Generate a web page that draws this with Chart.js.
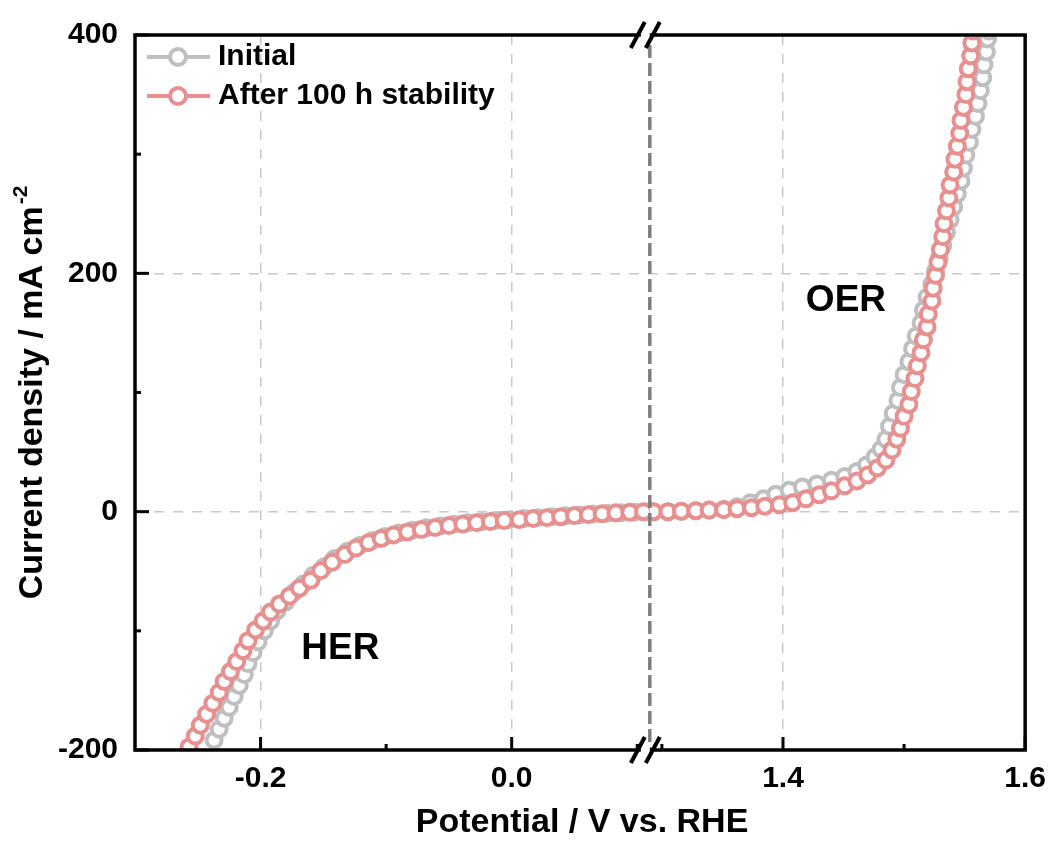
<!DOCTYPE html>
<html>
<head>
<meta charset="utf-8">
<title>LSV sebelum dan sesudah uji stabilitas</title>
<script src="https://cdn.jsdelivr.net/npm/chart.js@4.4.1/dist/chart.umd.min.js"></script>
<style>
  html, body { margin: 0; padding: 0; background: #fff; }
  #wrap { width: 1057px; height: 842px; }
</style>
</head>
<body>
<div id="wrap"><canvas id="chartCanvas" width="1057" height="842"></canvas></div>
<script>
    const seriesNames = ["Initial", "After 100 h stability"];
    const seriesColors = ["#bfbfbf", "#e88f8f"];

    // HER (sisi kiri sumbu x), potensial dalam V vs. RHE, arus dalam mA cm-2
    const initialHerV = [-0.237,-0.233,-0.229,-0.225,-0.221,-0.217,-0.213,-0.210,-0.206,-0.202,-0.197,-0.192,-0.187,-0.180,-0.173,-0.166,-0.158,-0.149,-0.141,-0.131,-0.121,-0.111,-0.101,-0.090,-0.079,-0.068,-0.057,-0.046,-0.035,-0.024,-0.013,-0.002,0.010,0.021,0.032,0.043,0.054,0.065,0.076,0.087,0.098,0.109];
    const initialHerJ = [-191.7,-182.5,-173.3,-164.2,-155.0,-145.8,-136.7,-127.5,-118.3,-109.2,-100.0,-91.7,-83.3,-75.8,-67.5,-60.8,-53.3,-46.0,-39.2,-33.3,-28.3,-24.2,-20.8,-18.0,-15.5,-13.6,-12.0,-10.6,-9.4,-8.4,-7.5,-6.7,-5.8,-5.0,-4.2,-3.4,-2.7,-2.0,-1.4,-0.9,-0.4,0.0];
    const afterHerV = [-0.257,-0.252,-0.248,-0.243,-0.238,-0.233,-0.229,-0.224,-0.219,-0.214,-0.210,-0.204,-0.198,-0.192,-0.185,-0.177,-0.169,-0.160,-0.152,-0.143,-0.133,-0.124,-0.114,-0.104,-0.094,-0.083,-0.072,-0.061,-0.050,-0.039,-0.028,-0.017,-0.006,0.006,0.017,0.028,0.039,0.050,0.061,0.072,0.083,0.094,0.105];
    const afterHerJ = [-197.5,-188.3,-179.2,-170.0,-160.8,-151.7,-142.5,-134.2,-125.8,-116.7,-108.3,-99.2,-91.7,-84.2,-77.5,-70.8,-64.2,-57.5,-49.5,-42.5,-36.0,-30.5,-26.0,-22.5,-19.5,-17.0,-15.0,-13.3,-11.7,-10.4,-9.2,-8.3,-7.5,-6.7,-5.8,-5.0,-4.2,-3.3,-2.5,-1.7,-1.0,-0.5,0.0];

    // OER (sisi kanan sumbu x)
    const initialOerV = [1.293,1.305,1.316,1.328,1.339,1.351,1.362,1.373,1.384,1.394,1.405,1.416,1.428,1.440,1.451,1.461,1.469,1.476,1.481,1.485,1.488,1.491,1.495,1.497,1.500,1.504,1.507,1.510,1.514,1.516,1.519,1.523,1.526,1.529,1.532,1.535,1.538,1.541,1.544,1.547,1.549,1.551,1.554,1.556,1.559,1.561,1.563,1.565,1.566,1.568,1.569,1.570];
    const initialOerJ = [0,0,0.4,0.8,1.3,2.1,4.2,7.5,10.8,14.6,17.9,20.8,23.3,26.3,29.6,33.8,39.2,45.8,52.5,60.8,71.7,82.5,93.3,104.2,115.0,125.8,136.7,147.5,158.3,169.2,180.0,190.8,201.7,212.5,223.3,234.2,245.0,255.8,266.7,277.5,288.3,299.2,310.0,320.8,331.7,342.5,353.3,364.2,375.0,385.8,396.7,403.3];
    const afterOerV = [1.293,1.305,1.316,1.328,1.339,1.351,1.362,1.374,1.385,1.397,1.408,1.419,1.430,1.440,1.451,1.461,1.470,1.478,1.485,1.490,1.494,1.497,1.500,1.504,1.506,1.509,1.511,1.514,1.516,1.519,1.520,1.523,1.524,1.526,1.528,1.530,1.532,1.533,1.535,1.537,1.538,1.541,1.542,1.544,1.546,1.547,1.549,1.551,1.552,1.553,1.555,1.556,1.557];
    const afterOerJ = [0,0,0.4,0.8,1.3,1.7,2.5,3.3,4.6,5.8,7.5,10.8,14.2,17.5,21.7,25.8,30.8,36.7,43.3,51.7,60.8,70.0,80.0,90.0,100.8,111.7,122.5,133.3,144.2,155.0,165.8,176.7,187.5,198.3,209.2,220.0,230.8,241.7,252.5,263.3,274.2,285.0,295.8,306.7,317.5,328.3,339.2,350.0,360.8,371.7,382.5,393.3,403.3];

    // sumbu
    const xRangeLeft = [-0.3, 0.11];
    const xRangeRight = [1.29, 1.6];
    const xTicksLeft = [-0.2, 0.0];
    const xTicksRight = [1.4, 1.6];
    const xMinorLeft = [-0.1, 0.1];
    const xMinorRight = [1.3, 1.5];
    const yRange = [-200, 400];
    const yTicks = [-200, 0, 200, 400];
    const yMinor = [-100, 100, 300];

    const FONT = '"Liberation Sans", Arial, Helvetica, sans-serif';

    function toPoints(vs, js) {
      return vs.map((v, i) => ({ x: v, y: js[i] }));
    }

    function gaya(warna) {
      return {
        borderColor: warna,
        backgroundColor: '#fff',
        borderWidth: 3.5,
        pointRadius: 7.5,
        pointHoverRadius: 7.5,
        pointBorderWidth: 4,
        pointBorderColor: warna,
        pointBackgroundColor: '#fff',
        tension: 0,
        fill: false
      };
    }

    const tickFont = { family: FONT, size: 30, weight: 'bold' };

    function sumbuX(range, ticks, weight) {
      return {
        type: 'linear',
        position: 'bottom',
        stack: 'x',
        stackWeight: weight,
        min: range[0],
        max: range[1],
        afterBuildTicks: s => { s.ticks = ticks.map(v => ({ value: v })); },
        afterFit: s => { s.height = 92; },
        grid: { color: '#c8c8c8', lineWidth: 1.5, drawTicks: false },
        border: { display: false, dash: [10, 9] },
        ticks: {
          color: '#000', font: tickFont, padding: 11,
          maxRotation: 0, autoSkip: false,
          callback: v => Number(v).toFixed(1)
        }
      };
    }

    function garis(ctx, x1, y1, x2, y2) {
      ctx.beginPath();
      ctx.moveTo(x1, y1);
      ctx.lineTo(x2, y2);
      ctx.stroke();
    }

    // bingkai, tick ke dalam, tanda patahan sumbu, judul, label dan legenda
    const hiasan = {
      id: 'hiasan',
      afterDatasetsDraw(chart) {
        const { ctx, chartArea: a, scales } = chart;
        const bx = scales.x1.right;
        ctx.save();

        ctx.strokeStyle = '#7f7f7f';
        ctx.lineWidth = 3.5;
        ctx.setLineDash([13, 5]);
        garis(ctx, bx, a.top + 10, bx, a.bottom);
        ctx.setLineDash([]);

        ctx.strokeStyle = '#000';
        ctx.lineWidth = 3.5;
        ctx.strokeRect(a.left, a.top, a.right - a.left, a.bottom - a.top);

        ctx.lineWidth = 3;
        yTicks.forEach(v => { const p = scales.y.getPixelForValue(v); garis(ctx, a.left, p, a.left + 14, p); });
        yMinor.forEach(v => { const p = scales.y.getPixelForValue(v); garis(ctx, a.left, p, a.left + 6, p); });
        xTicksLeft.forEach(v => { const p = scales.x1.getPixelForValue(v); garis(ctx, p, a.bottom, p, a.bottom - 13); });
        xMinorLeft.forEach(v => { const p = scales.x1.getPixelForValue(v); garis(ctx, p, a.bottom, p, a.bottom - 6); });
        xTicksRight.forEach(v => { const p = scales.x2.getPixelForValue(v); garis(ctx, p, a.bottom, p, a.bottom - 13); });
        xMinorRight.forEach(v => { const p = scales.x2.getPixelForValue(v); garis(ctx, p, a.bottom, p, a.bottom - 6); });

        // tanda "//"
        [a.top, a.bottom].forEach(yy => {
          ctx.fillStyle = '#fff';
          ctx.fillRect(bx - 9, yy - 3, 9, 6);
          ctx.strokeStyle = '#000';
          ctx.lineWidth = 4;
          [bx - 12, bx + 3].forEach(cx => garis(ctx, cx - 7, yy + 13, cx + 7, yy - 13));
        });
        ctx.restore();
      },
      afterDraw(chart) {
        const { ctx, chartArea: a, scales } = chart;
        ctx.save();
        ctx.fillStyle = '#000';
        ctx.textBaseline = 'middle';

        // judul sumbu x
        ctx.font = 'bold 34px ' + FONT;
        ctx.textAlign = 'center';
        ctx.fillText('Potential / V vs. RHE', (a.left + a.right) / 2 + 2, a.bottom + 73);

        // judul sumbu y dengan pangkat
        ctx.save();
        ctx.translate(33, (a.top + a.bottom) / 2);
        ctx.rotate(-Math.PI / 2);
        const utama = 'Current density / mA cm';
        const pangkat = '-2';
        ctx.font = 'bold 34px ' + FONT;
        const w1 = ctx.measureText(utama).width;
        ctx.font = 'bold 21px ' + FONT;
        const w2 = ctx.measureText(pangkat).width;
        const mulai = -(w1 + w2 + 2) / 2;
        ctx.textAlign = 'left';
        ctx.font = 'bold 34px ' + FONT;
        ctx.fillText(utama, mulai, 0);
        ctx.font = 'bold 21px ' + FONT;
        ctx.fillText(pangkat, mulai + w1 + 2, -12);
        ctx.restore();

        // label HER / OER
        ctx.font = 'bold 37px ' + FONT;
        ctx.textAlign = 'center';
        ctx.fillText('HER', scales.x1.getPixelForValue(-0.1365), scales.y.getPixelForValue(-115));
        ctx.fillText('OER', scales.x2.getPixelForValue(1.452), scales.y.getPixelForValue(177));

        // legenda
        seriesNames.forEach((nama, i) => {
          const yy = a.top + 22 + i * 39;
          const x0 = a.left + 12;
          ctx.strokeStyle = seriesColors[i];
          ctx.lineWidth = 4;
          garis(ctx, x0, yy, x0 + 63, yy);
          ctx.beginPath();
          ctx.arc(x0 + 31, yy, 8, 0, Math.PI * 2);
          ctx.fillStyle = '#fff';
          ctx.fill();
          ctx.stroke();
          ctx.fillStyle = '#000';
          ctx.font = 'bold 30px ' + FONT;
          ctx.textAlign = 'left';
          ctx.fillText(nama, x0 + 71, yy);
        });
        ctx.restore();
      }
    };

    const ctx = document.getElementById('chartCanvas').getContext('2d');
    window.chartInstance = new Chart(ctx, {
      type: 'line',
      data: {
        datasets: [
          // yang pertama digambar paling atas
          { label: seriesNames[1], xAxisID: 'x1', yAxisID: 'y', data: toPoints(afterHerV, afterHerJ), ...gaya(seriesColors[1]) },
          { label: seriesNames[1], xAxisID: 'x2', yAxisID: 'y', data: toPoints(afterOerV, afterOerJ), ...gaya(seriesColors[1]) },
          { label: seriesNames[0], xAxisID: 'x1', yAxisID: 'y', data: toPoints(initialHerV, initialHerJ), ...gaya(seriesColors[0]) },
          { label: seriesNames[0], xAxisID: 'x2', yAxisID: 'y', data: toPoints(initialOerV, initialOerJ), ...gaya(seriesColors[0]) }
        ]
      },
      options: {
        responsive: false,
        animation: false,
        devicePixelRatio: 1,
        layout: { padding: { top: 30, right: 29, bottom: 0, left: 0 } },
        plugins: {
          legend: { display: false },
          tooltip: { enabled: false },
          title: { display: false }
        },
        scales: {
          x1: sumbuX(xRangeLeft, xTicksLeft, (xRangeLeft[1] - xRangeLeft[0]) * 1260),
          x2: sumbuX(xRangeRight, xTicksRight, (xRangeRight[1] - xRangeRight[0]) * 1215),
          y: {
            type: 'linear',
            position: 'left',
            min: yRange[0],
            max: yRange[1],
            afterBuildTicks: s => { s.ticks = yTicks.map(v => ({ value: v })); },
            afterFit: s => { s.width = 135; },
            grid: { color: '#c8c8c8', lineWidth: 1.5, drawTicks: false },
            border: { display: false, dash: [10, 9] },
            ticks: { color: '#000', font: tickFont, padding: 17, callback: v => String(v) }
          }
        }
      },
      plugins: [hiasan]
    });
</script>
</body>
</html>
